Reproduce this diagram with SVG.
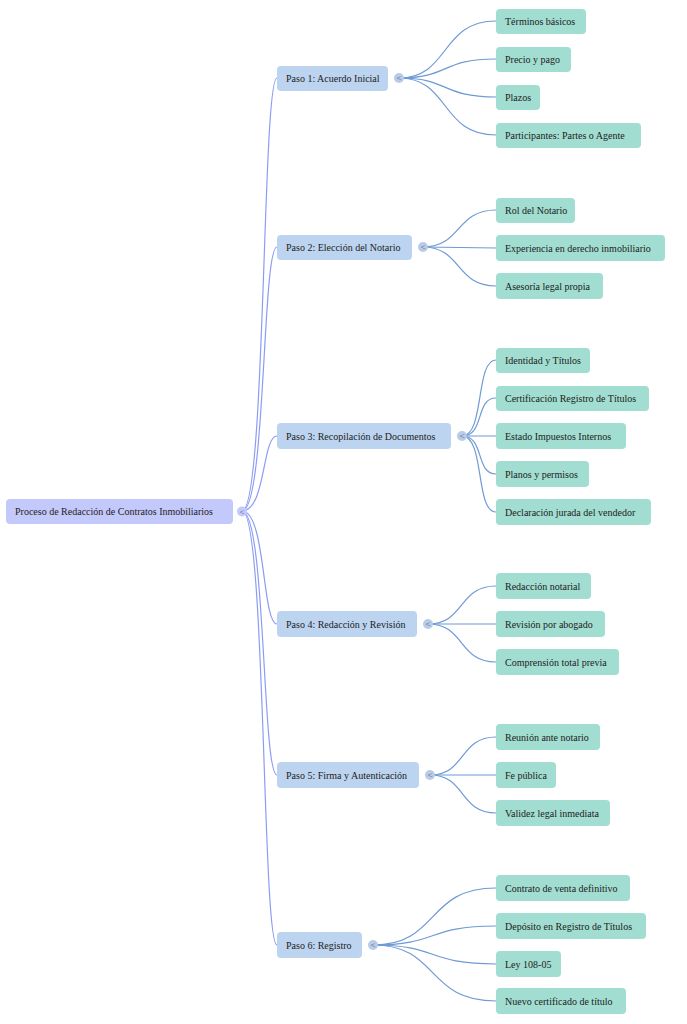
<svg xmlns="http://www.w3.org/2000/svg" width="687" height="1024" viewBox="0 0 687 1024">
<style>
text{font-family:"Liberation Serif",serif;font-size:10px;fill:#222;dominant-baseline:central}
.r{fill:#c4c9fb}.m{fill:#bcd4f0}.l{fill:#a1ddd0}
.c{fill:#b8cbe8}.rc{fill:#c4c9fb}
.cr{fill:none;stroke:#8c9cf5;stroke-width:1.2}
.cc{fill:none;stroke:#6f9ad6;stroke-width:1.2}
.ct{font-size:9px;fill:#556;text-anchor:middle}
</style>
<rect width="687" height="1024" fill="#fff"/>
<g id="connectors">
<path class="cr" d="M242,511 C266,511 262,78 277,78"/>
<path class="cr" d="M242,511 C266,511 262,247 277,247"/>
<path class="cr" d="M242,511 C266,511 262,436 277,436"/>
<path class="cr" d="M242,511 C266,511 262,624 277,624"/>
<path class="cr" d="M242,511 C266,511 262,775 277,775"/>
<path class="cr" d="M242,511 C266,511 262,945 277,945"/>
<path class="cc" d="M399,78 C450,78 440,21 496,21"/>
<path class="cc" d="M399,78 C450,78 440,59 496,59"/>
<path class="cc" d="M399,78 C450,78 440,97 496,97"/>
<path class="cc" d="M399,78 C450,78 440,135 496,135"/>
<path class="cc" d="M423,247 C462,247 455,210 496,210"/>
<path class="cc" d="M423,247 L496,248"/>
<path class="cc" d="M423,247 C462,247 455,286 496,286"/>
<path class="cc" d="M462,436 C485,436 475,360 496,360"/>
<path class="cc" d="M462,436 C485,436 475,398 496,398"/>
<path class="cc" d="M462,436 L496,436"/>
<path class="cc" d="M462,436 C485,436 475,474 496,474"/>
<path class="cc" d="M462,436 C485,436 475,512 496,512"/>
<path class="cc" d="M428,624 C465,624 458,586 496,586"/>
<path class="cc" d="M428,624 L496,624"/>
<path class="cc" d="M428,624 C465,624 458,662 496,662"/>
<path class="cc" d="M430,775 C466,775 459,737 496,737"/>
<path class="cc" d="M430,775 L496,775"/>
<path class="cc" d="M430,775 C466,775 459,813 496,813"/>
<path class="cc" d="M373,945 C440,945 425,888 496,888"/>
<path class="cc" d="M373,945 C440,945 425,926 496,926"/>
<path class="cc" d="M373,945 C440,945 425,964 496,964"/>
<path class="cc" d="M373,945 C440,945 425,1001 496,1001"/>
</g>
<g id="root"><rect class="r" x="6" y="499" width="227" height="25" rx="4"/><text x="15" y="511.5">Proceso de Redacción de Contratos Inmobiliarios</text><circle class="rc" cx="242" cy="511.5" r="5"/><text class="ct" x="242" y="511.5">&lt;</text></g>
<g id="p1"><rect class="m" x="277" y="66" width="111" height="25" rx="4"/><text x="286" y="78.5">Paso 1: Acuerdo Inicial</text><circle class="c" cx="399" cy="78" r="5"/><text class="ct" x="399" y="78">&lt;</text></g>
<g id="p2"><rect class="m" x="277" y="235" width="135" height="25" rx="4"/><text x="286" y="247.5">Paso 2: Elección del Notario</text><circle class="c" cx="423" cy="247" r="5"/><text class="ct" x="423" y="247">&lt;</text></g>
<g id="p3"><rect class="m" x="277" y="423" width="174" height="26" rx="4"/><text x="286" y="436">Paso 3: Recopilación de Documentos</text><circle class="c" cx="462" cy="436" r="5"/><text class="ct" x="462" y="436">&lt;</text></g>
<g id="p4"><rect class="m" x="277" y="611" width="140" height="26" rx="4"/><text x="286" y="624">Paso 4: Redacción y Revisión</text><circle class="c" cx="428" cy="624" r="5"/><text class="ct" x="428" y="624">&lt;</text></g>
<g id="p5"><rect class="m" x="277" y="762" width="142" height="26" rx="4"/><text x="286" y="775">Paso 5: Firma y Autenticación</text><circle class="c" cx="430" cy="775" r="5"/><text class="ct" x="430" y="775">&lt;</text></g>
<g id="p6"><rect class="m" x="277" y="932" width="85" height="26" rx="4"/><text x="286" y="945">Paso 6: Registro</text><circle class="c" cx="373" cy="945" r="5"/><text class="ct" x="373" y="945">&lt;</text></g>
<g id="l1"><rect class="l" x="496" y="9" width="90" height="25" rx="4"/><text x="505" y="21.5">Términos básicos</text></g>
<g id="l2"><rect class="l" x="496" y="47" width="75" height="25" rx="4"/><text x="505" y="59.5">Precio y pago</text></g>
<g id="l3"><rect class="l" x="496" y="85" width="44" height="25" rx="4"/><text x="505" y="97.5">Plazos</text></g>
<g id="l4"><rect class="l" x="496" y="123" width="145" height="25" rx="4"/><text x="505" y="135.5">Participantes: Partes o Agente</text></g>
<g id="l5"><rect class="l" x="496" y="198" width="79" height="25" rx="4"/><text x="505" y="210.5">Rol del Notario</text></g>
<g id="l6"><rect class="l" x="496" y="235" width="169" height="26" rx="4"/><text x="505" y="248">Experiencia en derecho inmobiliario</text></g>
<g id="l7"><rect class="l" x="496" y="273" width="107" height="26" rx="4"/><text x="505" y="286">Asesoría legal propia</text></g>
<g id="l8"><rect class="l" x="496" y="348" width="94" height="25" rx="4"/><text x="505" y="360.5">Identidad y Títulos</text></g>
<g id="l9"><rect class="l" x="496" y="386" width="153" height="25" rx="4"/><text x="505" y="398.5">Certificación Registro de Títulos</text></g>
<g id="l10"><rect class="l" x="496" y="423" width="130" height="26" rx="4"/><text x="505" y="436">Estado Impuestos Internos</text></g>
<g id="l11"><rect class="l" x="496" y="461" width="93" height="26" rx="4"/><text x="505" y="474">Planos y permisos</text></g>
<g id="l12"><rect class="l" x="496" y="499" width="155" height="26" rx="4"/><text x="505" y="512">Declaración jurada del vendedor</text></g>
<g id="l13"><rect class="l" x="496" y="573" width="95" height="26" rx="4"/><text x="505" y="586">Redacción notarial</text></g>
<g id="l14"><rect class="l" x="496" y="611" width="109" height="26" rx="4"/><text x="505" y="624">Revisión por abogado</text></g>
<g id="l15"><rect class="l" x="496" y="649" width="123" height="26" rx="4"/><text x="505" y="662">Comprensión total previa</text></g>
<g id="l16"><rect class="l" x="496" y="724" width="104" height="26" rx="4"/><text x="505" y="737">Reunión ante notario</text></g>
<g id="l17"><rect class="l" x="496" y="762" width="60" height="26" rx="4"/><text x="505" y="775">Fe pública</text></g>
<g id="l18"><rect class="l" x="496" y="800" width="114" height="26" rx="4"/><text x="505" y="813">Validez legal inmediata</text></g>
<g id="l19"><rect class="l" x="496" y="875" width="134" height="26" rx="4"/><text x="505" y="888">Contrato de venta definitivo</text></g>
<g id="l20"><rect class="l" x="496" y="913" width="150" height="26" rx="4"/><text x="505" y="926">Depósito en Registro de Títulos</text></g>
<g id="l21"><rect class="l" x="496" y="951" width="65" height="26" rx="4"/><text x="505" y="964">Ley 108-05</text></g>
<g id="l22"><rect class="l" x="496" y="988" width="130" height="26" rx="4"/><text x="505" y="1001">Nuevo certificado de título</text></g>
</svg>
